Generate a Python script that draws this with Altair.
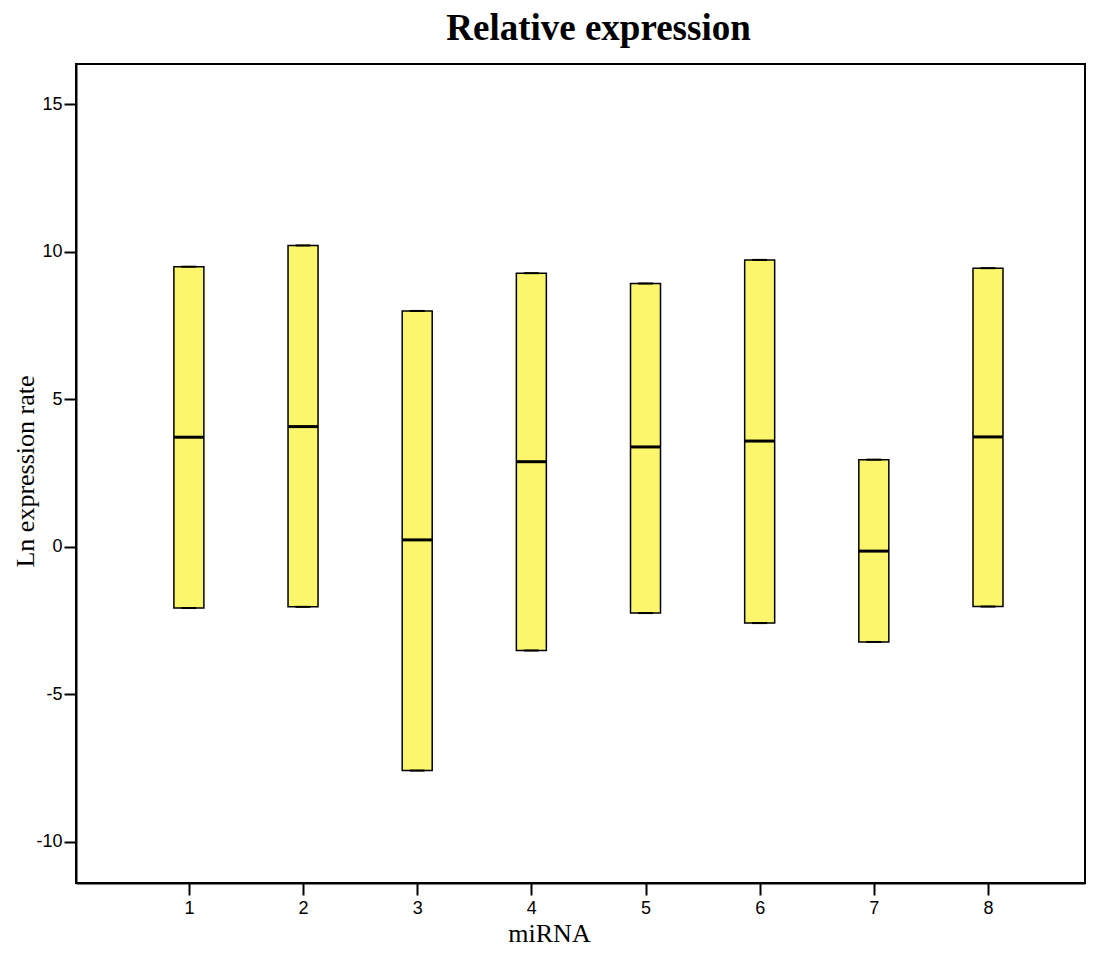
import altair as alt
import pandas as pd

mirna = [1, 2, 3, 4, 5, 6, 7, 8]
upper = [9.50, 10.22, 8.00, 9.28, 8.93, 9.73, 2.96, 9.45]
median = [3.72, 4.08, 0.24, 2.89, 3.39, 3.59, -0.14, 3.73]
lower = [-2.07, -2.03, -7.58, -3.51, -2.24, -2.58, -3.22, -2.02]

df = pd.DataFrame({"miRNA": mirna, "upper": upper, "median": median, "lower": lower})

xscale = alt.Scale(domain=[0.055, 8.806], nice=False, zero=False)
yscale = alt.Scale(domain=[-11.39, 16.37], nice=False, zero=False)

xaxis = alt.Axis(
    values=mirna, format="d", grid=False, tickSize=12, tickWidth=2, tickColor="black",
    domainColor="black", domainWidth=2, labelFont="Liberation Sans", labelFontSize=18,
    labelColor="black", labelPadding=4, title="miRNA", titleFont="Liberation Serif",
    titleFontSize=26, titleFontWeight="normal", titleColor="black", titleX=473, titleY=58,
    titleBaseline="alphabetic", titleAlign="center",
)
yaxis = alt.Axis(
    values=[-10, -5, 0, 5, 10, 15], grid=False, tickSize=12, tickWidth=2, tickColor="black",
    domainColor="black", domainWidth=2, labelFont="Liberation Sans", labelFontSize=18,
    labelColor="black", labelPadding=2, labelExpr="toString(datum.value)",
    title="Ln expression rate", titleFont="Liberation Serif",
    titleFontSize=26, titleFontWeight="normal", titleColor="black", titleX=-43, titleY=407,
    titleAngle=-90, titleBaseline="alphabetic", titleAlign="center",
)

base = alt.Chart(df)

boxes = base.mark_bar(width=30, color="#FBF66B", stroke="black", strokeWidth=1.5, opacity=1).encode(
    x=alt.X("miRNA:Q", scale=xscale, axis=xaxis),
    y=alt.Y("lower:Q", scale=yscale, axis=yaxis),
    y2="upper:Q",
)
med = base.mark_tick(orient="horizontal", size=30, thickness=3, color="black", opacity=1).encode(
    x=alt.X("miRNA:Q", scale=xscale), y=alt.Y("median:Q", scale=yscale)
)
capu = base.mark_tick(orient="horizontal", size=15, thickness=2, color="black", opacity=1).encode(
    x=alt.X("miRNA:Q", scale=xscale), y=alt.Y("upper:Q", scale=yscale)
)
capl = base.mark_tick(orient="horizontal", size=15, thickness=2, color="black", opacity=1).encode(
    x=alt.X("miRNA:Q", scale=xscale), y=alt.Y("lower:Q", scale=yscale)
)

chart = alt.layer(boxes, capu, capl, med).properties(
    width=1009, height=819,
    background="white",
    title=alt.TitleParams(
        "Relative expression", font="Liberation Serif", fontSize=37, fontWeight="bold",
        color="black", anchor="middle", dx=18, offset=16,
    ),
    autosize=alt.AutoSizeParams(type="none"),
    padding={"left": 68, "top": 56, "right": 1, "bottom": 64},
).configure_view(stroke="black", strokeWidth=2, strokeOpacity=1)

chart.save("out.html", embed_options={"renderer": "svg", "actions": False})
